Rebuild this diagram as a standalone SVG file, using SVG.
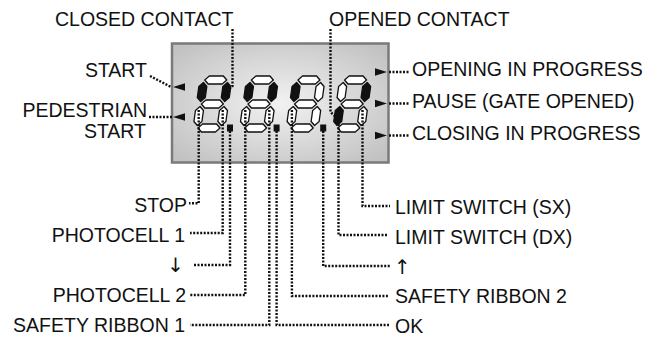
<svg xmlns="http://www.w3.org/2000/svg" xmlns:xlink="http://www.w3.org/1999/xlink" width="646" height="340" viewBox="0 0 646 340">
<style>
text{font-family:"Liberation Sans","DejaVu Sans",Arial,sans-serif;font-size:19.5px;fill:#111}
.e{text-anchor:end}
.arr{font-family:"DejaVu Sans",sans-serif;font-size:20px}
.seg{fill:#fff;stroke:#111;stroke-width:1.3;stroke-linejoin:round}
.on{fill:#111}
.dot{fill:none;stroke:#111;stroke-width:2.4;stroke-dasharray:2 1.5}
.tri{fill:#111}
</style>
<defs>
<radialGradient id="lcd" cx="0.5" cy="0.5" r="0.65">
<stop offset="0" stop-color="#f2f2f2"/>
<stop offset="1" stop-color="#c2c2c2"/>
</radialGradient>
<polygon id="h" points="-11,0 -7,-4 7,-4 11,0 7,4 -7,4"/>
<polygon id="v" points="0,-9.5 4,-5.5 4,5.5 0,9.5 -4,5.5 -4,-5.5"/>
</defs>

<g id="display">
<rect x="172" y="43.5" width="216.5" height="119" fill="url(#lcd)" stroke="#7a7a7a" stroke-width="2.5"/>
<polygon class="tri" points="173,87 185,83.3 185,90.7"/>
<polygon class="tri" points="173,117 185,113.3 185,120.7"/>
<polygon class="tri" points="387,72 375,68.3 375,75.7"/>
<polygon class="tri" points="387,103.5 375,99.8 375,107.2"/>
<polygon class="tri" points="387,135.5 375,131.8 375,139.2"/>
</g>

<g id="digit1" transform="translate(209,128) skewX(-8)">
<use xlink:href="#h" class="seg" y="-48"/>
<use xlink:href="#h" class="seg" y="-24"/>
<use xlink:href="#h" class="seg" y="0"/>
<use xlink:href="#v" class="seg on" x="-12" y="-36"/>
<use xlink:href="#v" class="seg on" x="12" y="-36"/>
<use xlink:href="#v" class="seg" x="-12" y="-12"/>
<use xlink:href="#v" class="seg" x="12" y="-12"/>
</g>
<rect id="dp1" x="227" y="124.5" width="6" height="7" fill="#111"/>

<g id="digit2" transform="translate(255.6,128) skewX(-8)">
<use xlink:href="#h" class="seg" y="-48"/>
<use xlink:href="#h" class="seg" y="-24"/>
<use xlink:href="#h" class="seg" y="0"/>
<use xlink:href="#v" class="seg on" x="-12" y="-36"/>
<use xlink:href="#v" class="seg on" x="12" y="-36"/>
<use xlink:href="#v" class="seg" x="-12" y="-12"/>
<use xlink:href="#v" class="seg" x="12" y="-12"/>
</g>
<rect id="dp2" x="273.6" y="124.5" width="6" height="7" fill="#111"/>

<g id="digit3" transform="translate(302.2,128) skewX(-8)">
<use xlink:href="#h" class="seg" y="-48"/>
<use xlink:href="#h" class="seg" y="-24"/>
<use xlink:href="#h" class="seg" y="0"/>
<use xlink:href="#v" class="seg on" x="-12" y="-36"/>
<use xlink:href="#v" class="seg" x="12" y="-36"/>
<use xlink:href="#v" class="seg" x="-12" y="-12"/>
<use xlink:href="#v" class="seg" x="12" y="-12"/>
</g>
<rect id="dp3" x="320.2" y="124.5" width="6" height="7" fill="#111"/>

<g id="digit4" transform="translate(348.8,128) skewX(-8)">
<use xlink:href="#h" class="seg" y="-48"/>
<use xlink:href="#h" class="seg" y="-24"/>
<use xlink:href="#h" class="seg" y="0"/>
<use xlink:href="#v" class="seg" x="-12" y="-36"/>
<use xlink:href="#v" class="seg on" x="12" y="-36"/>
<use xlink:href="#v" class="seg on" x="-12" y="-12"/>
<use xlink:href="#v" class="seg" x="12" y="-12"/>
</g>

<g id="connectors">
<path class="dot" d="M232.5,29 V86 L230.5,88"/>
<path class="dot" d="M330.5,29 V112 L334.5,116"/>
<path class="dot" d="M150,76 L171,87"/>
<path class="dot" d="M149,117 H172"/>
<path class="dot" d="M389,72 H410"/>
<path class="dot" d="M389,103.5 H410"/>
<path class="dot" d="M389,135.5 H410"/>
<path class="dot" d="M198.7,110 V203.3 H189"/>
<path class="dot" d="M222.7,110 V233 H190"/>
<path class="dot" d="M230,131 V265 H193"/>
<path class="dot" d="M245.3,110 V295 H190"/>
<path class="dot" d="M269.3,110 V325 H190"/>
<path class="dot" d="M276.6,131 V325 H389"/>
<path class="dot" d="M291.9,110 V296 H389"/>
<path class="dot" d="M323.2,131 V266 H391"/>
<path class="dot" d="M338.5,110 V235 H388"/>
<path class="dot" d="M362.5,110 V206 H390"/>
</g>

<g id="labels">
<text x="55" y="26">CLOSED CONTACT</text>
<text x="329" y="26">OPENED CONTACT</text>
<text class="e" x="147" y="77">START</text>
<text class="e" x="147" y="117">PEDESTRIAN</text>
<text class="e" x="146" y="137.5">START</text>
<text x="412" y="76">OPENING IN PROGRESS</text>
<text x="412" y="107.5">PAUSE (GATE OPENED)</text>
<text x="412" y="139.5">CLOSING IN PROGRESS</text>
<text class="e" x="187" y="212">STOP</text>
<text class="e" x="185" y="242">PHOTOCELL 1</text>
<text class="e arr" x="184" y="272">↓</text>
<text class="e" x="186" y="302">PHOTOCELL 2</text>
<text class="e" x="185" y="332">SAFETY RIBBON 1</text>
<text x="395" y="214">LIMIT SWITCH (SX)</text>
<text x="395" y="244">LIMIT SWITCH (DX)</text>
<text class="arr" x="394" y="274">↑</text>
<text x="395" y="303">SAFETY RIBBON 2</text>
<text x="395" y="333">OK</text>
</g>
</svg>
